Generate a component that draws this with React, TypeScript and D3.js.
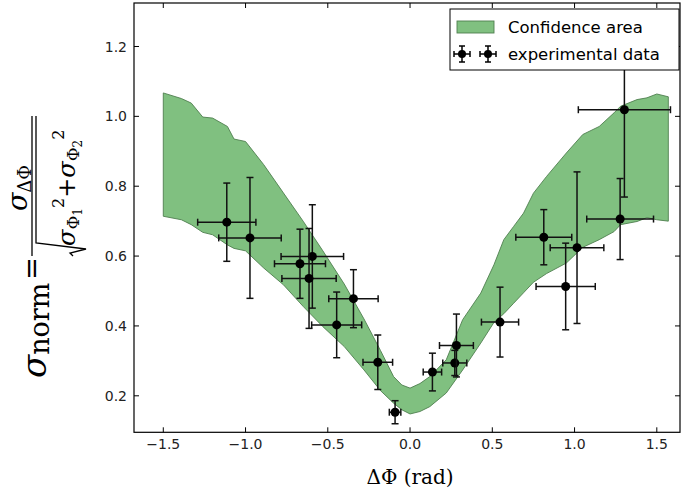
import React from "react";
import * as d3 from "d3";

const bandX = [-1.5, -1.39, -1.33, -1.26, -1.2, -1.11, -1.07, -1.0, -0.89, -0.77, -0.65, -0.53, -0.4, -0.28, -0.18, -0.1, -0.05, 0.0, 0.06, 0.12, 0.22, 0.32, 0.43, 0.51, 0.57, 0.63, 0.69, 0.75, 0.83, 0.95, 1.05, 1.15, 1.24, 1.28, 1.38, 1.44, 1.5, 1.57];
const bandUpper = [1.067, 1.051, 1.038, 0.998, 0.995, 0.971, 0.935, 0.928, 0.862, 0.781, 0.7, 0.615, 0.52, 0.42, 0.33, 0.255, 0.231, 0.222, 0.235, 0.255, 0.303, 0.418, 0.494, 0.575, 0.647, 0.685, 0.723, 0.78, 0.828, 0.895, 0.948, 0.971, 1.01, 1.029, 1.048, 1.053, 1.064, 1.056];
const bandLower = [0.714, 0.704, 0.69, 0.668, 0.661, 0.632, 0.622, 0.615, 0.566, 0.518, 0.456, 0.398, 0.341, 0.274, 0.215, 0.179, 0.16, 0.148, 0.155, 0.169, 0.208, 0.274, 0.351, 0.41, 0.435, 0.465, 0.495, 0.525, 0.55, 0.58, 0.625, 0.647, 0.67, 0.69, 0.699, 0.71, 0.704, 0.7];

const pointX = [-1.114, -0.973, -0.669, -0.594, -0.614, -0.446, -0.344, -0.196, -0.091, 0.136, 0.272, 0.282, 0.547, 0.813, 0.946, 1.015, 1.277, 1.303];
const pointY = [0.697, 0.652, 0.578, 0.599, 0.536, 0.403, 0.478, 0.296, 0.153, 0.268, 0.294, 0.344, 0.411, 0.654, 0.513, 0.624, 0.706, 1.019];
const xErr = [0.177, 0.19, 0.155, 0.19, 0.165, 0.152, 0.15, 0.09, 0.035, 0.056, 0.073, 0.103, 0.113, 0.17, 0.18, 0.163, 0.203, 0.28];
const yErr = [0.112, 0.173, 0.099, 0.148, 0.143, 0.094, 0.083, 0.078, 0.033, 0.054, 0.036, 0.09, 0.1, 0.079, 0.124, 0.217, 0.116, 0.25];

const xTicks = [-1.5, -1.0, -0.5, 0.0, 0.5, 1.0, 1.5];
const yTicks = [0.2, 0.4, 0.6, 0.8, 1.0, 1.2];
const legendLabels = ["Confidence area", "experimental data"];

const W = 681, H = 496;
const L = 134, R = 680, T = 3, B = 432.3;

export default function App() {
  const x = d3.scaleLinear().domain([-1.678, 1.641]).range([L, R]);
  const y = d3.scaleLinear().domain([0.0955, 1.3245]).range([B, T]);
  const area = d3.area<number>()
    .x((_, i) => x(bandX[i]))
    .y0((_, i) => y(bandLower[i]))
    .y1((_, i) => y(bandUpper[i]));
  const fmt = (v: number) => d3.format(".1f")(v).replace("-", "\u2212");
  const tickFont = { fontFamily: "DejaVu Sans", fontSize: 14, fill: "#222" };
  const cap = 3.5;

  const errMarker = (cx: number, cy: number, key: string) => (
    <g key={key} stroke="#000" strokeWidth={1.5}>
      <line x1={cx - 8} x2={cx + 8} y1={cy} y2={cy} />
      <line x1={cx - 8} x2={cx - 8} y1={cy - 3} y2={cy + 3} />
      <line x1={cx + 8} x2={cx + 8} y1={cy - 3} y2={cy + 3} />
      <line x1={cx} x2={cx} y1={cy - 8} y2={cy + 8} />
      <line x1={cx - 3} x2={cx + 3} y1={cy - 8} y2={cy - 8} />
      <line x1={cx - 3} x2={cx + 3} y1={cy + 8} y2={cy + 8} />
      <circle cx={cx} cy={cy} r={4} fill="#000" stroke="none" />
    </g>
  );

  return (
    <svg width={W} height={H} style={{ position: "absolute", left: 0, top: 0, background: "#fff" }}>
      <rect x={0} y={0} width={W} height={H} fill="#fff" />
      <path d={area(bandX) || ""} fill="#80c080" stroke="#4f7f4f" strokeWidth={0.9} />
      {pointX.map((px, i) => {
        const cx = x(px), cy = y(pointY[i]);
        const x0 = x(px - xErr[i]), x1 = x(px + xErr[i]);
        const y0 = y(pointY[i] - yErr[i]), y1 = y(pointY[i] + yErr[i]);
        return (
          <g key={i} stroke="#111" strokeWidth={1.5}>
            <line x1={x0} x2={x1} y1={cy} y2={cy} />
            <line x1={x0} x2={x0} y1={cy - cap} y2={cy + cap} />
            <line x1={x1} x2={x1} y1={cy - cap} y2={cy + cap} />
            <line x1={cx} x2={cx} y1={y0} y2={y1} />
            <line x1={cx - cap} x2={cx + cap} y1={y0} y2={y0} />
            <line x1={cx - cap} x2={cx + cap} y1={y1} y2={y1} />
            <circle cx={cx} cy={cy} r={4.5} fill="#000" stroke="none" />
          </g>
        );
      })}
      {/* axes frame */}
      <rect x={L} y={T} width={R - L} height={B - T} fill="none" stroke="#000" strokeWidth={1.2} />
      {xTicks.map((t) => (
        <g key={"xt" + t}>
          <line x1={x(t)} x2={x(t)} y1={B} y2={B - 5} stroke="#000" />
          <line x1={x(t)} x2={x(t)} y1={T} y2={T + 5} stroke="#000" />
          <text x={x(t)} y={449} textAnchor="middle" {...tickFont}>{fmt(t)}</text>
        </g>
      ))}
      {yTicks.map((t) => (
        <g key={"yt" + t}>
          <line x1={L} x2={L + 5} y1={y(t)} y2={y(t)} stroke="#000" />
          <line x1={R} x2={R - 5} y1={y(t)} y2={y(t)} stroke="#000" />
          <text x={127} y={y(t)} dy="0.36em" textAnchor="end" {...tickFont}>{fmt(t)}</text>
        </g>
      ))}
      {/* x label */}
      <text x={410} y={484} textAnchor="middle" fontFamily="DejaVu Serif" fontSize={20} fill="#000">ΔΦ (rad)</text>
      {/* y label (rotated) */}
      <g transform="rotate(-90)" fontFamily="DejaVu Serif" fill="#000">
        <text x={-257} y={46} textAnchor="end">
          <tspan fontStyle="italic" fontSize={34}>σ</tspan>
          <tspan fontSize={27} dy={3}>norm</tspan>
          <tspan fontSize={27} dy={-8} dx={3}>=</tspan>
        </text>
        <line x1={-256} x2={-116} y1={32} y2={32} stroke="#000" strokeWidth={1.3} />
        <text x={-188} y={27} textAnchor="middle">
          <tspan fontStyle="italic" fontSize={27}>σ</tspan>
          <tspan fontSize={18} dy={4}>ΔΦ</tspan>
        </text>
        <path d="M-256,73 L-253,70 L-249,86 L-243,36 L-116,36" fill="none" stroke="#000" strokeWidth={1.3} />
        <text x={-246} y={75}>
          <tspan fontStyle="italic" fontSize={24}>σ</tspan>
          <tspan fontSize={17} dy={4}>Φ</tspan>
          <tspan fontSize={12} dy={3}>1</tspan>
          <tspan fontSize={16} dy={-18}>2</tspan>
          <tspan fontSize={24} dy={11}>+</tspan>
          <tspan fontStyle="italic" fontSize={24}>σ</tspan>
          <tspan fontSize={17} dy={4}>Φ</tspan>
          <tspan fontSize={12} dy={3}>2</tspan>
          <tspan fontSize={16} dy={-18}>2</tspan>
        </text>
      </g>
      {/* legend */}
      <g>
        <rect x={450} y={9} width={229} height={61} fill="#fff" stroke="#000" strokeWidth={1} />
        <rect x={457} y={21} width={37} height={12} fill="#80c080" stroke="#4f7f4f" strokeWidth={0.9} />
        <text x={508} y={27} dy="0.36em" fontFamily="DejaVu Sans" fontSize={16.5} fill="#000">{legendLabels[0]}</text>
        {errMarker(462, 54, "m1")}
        {errMarker(488, 54, "m2")}
        <text x={508} y={54} dy="0.36em" fontFamily="DejaVu Sans" fontSize={16.5} fill="#000">{legendLabels[1]}</text>
      </g>
    </svg>
  );
}
